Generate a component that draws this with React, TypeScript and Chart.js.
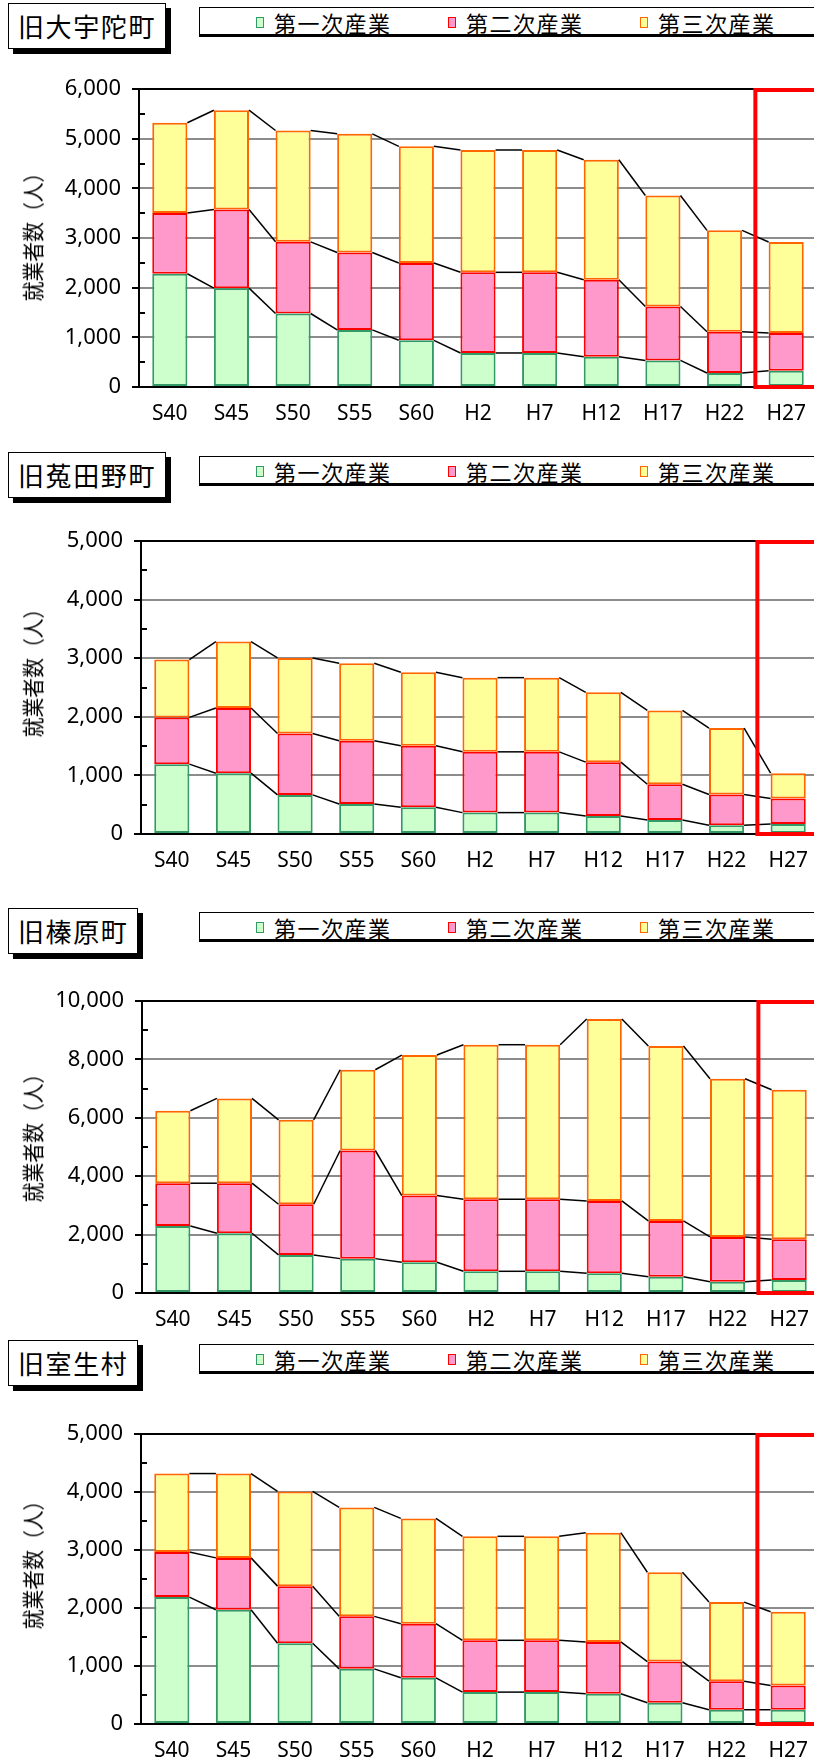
import React, { useEffect, useRef } from 'react';
import { Chart, registerables } from 'chart.js';

Chart.register(...registerables);

// ---------- data ----------
const categories = ['S40', 'S45', 'S50', 'S55', 'S60', 'H2', 'H7', 'H12', 'H17', 'H22', 'H27'];
const seriesLabels = ['第一次産業', '第二次産業', '第三次産業'];
const yAxisTitle = '就業者数（人）';

// 旧大宇陀町
const udaPrimary = [2280, 1990, 1480, 1150, 940, 685, 685, 610, 535, 282, 329];
const udaSecondary = [1221, 1583, 1443, 1557, 1557, 1624, 1624, 1550, 1087, 832, 758];
const udaTertiary = [1819, 2000, 2242, 2390, 2349, 2463, 2463, 2416, 2235, 2040, 1832];
const udaYTicks = [0, 1000, 2000, 3000, 4000, 5000, 6000];

// 旧菟田野町
const utanoPrimary = [1192, 1038, 667, 513, 456, 365, 365, 308, 239, 148, 171];
const utanoSecondary = [798, 1111, 1049, 1078, 1049, 1037, 1037, 918, 610, 525, 433];
const utanoTertiary = [986, 1135, 1289, 1322, 1254, 1266, 1266, 1191, 1260, 1134, 434];
const utanoYTicks = [0, 1000, 2000, 3000, 4000, 5000];

// 旧榛原町
const haibaraPrimary = [2297, 2046, 1303, 1177, 1051, 743, 743, 674, 560, 389, 446];
const haibaraSecondary = [1463, 1714, 1737, 3703, 2286, 2468, 2468, 2480, 1909, 1531, 1394];
const haibaraTertiary = [2480, 2903, 2891, 2766, 4812, 5292, 5292, 6229, 5988, 5417, 5120];
const haibaraYTicks = [0, 2000, 4000, 6000, 8000, 10000];

// 旧室生村
const muroPrimary = [2188, 1970, 1392, 951, 796, 550, 550, 521, 367, 246, 246];
const muroSecondary = [779, 894, 985, 905, 934, 893, 893, 894, 710, 493, 418];
const muroTertiary = [1351, 1454, 1632, 1878, 1815, 1793, 1793, 1884, 1540, 1363, 1272];
const muroYTicks = [0, 1000, 2000, 3000, 4000, 5000];

// ---------- styles ----------
const fillColors = ['#CCFFCC', '#FF99CC', '#FFFF99'];
const borderColors = ['#339966', '#FF0000', '#FF6600'];
const CJK = '"Noto Sans CJK JP", "Noto Sans", sans-serif';
const NUM = '"Noto Sans", "Noto Sans CJK JP", sans-serif';

const PAD_TOP = 27;
const X_H = 40;
const CAT_W = 61.6;

type PanelCfg = {
  name: string;
  primary: number[];
  secondary: number[];
  tertiary: number[];
  yTicks: number[];
  titleTop: number;
  plotTop: number;
  plotBottom: number;
  axisX: number;
  yTitleOffset: number;
};

const panels: PanelCfg[] = [
  { name: '旧大宇陀町', primary: udaPrimary, secondary: udaSecondary, tertiary: udaTertiary, yTicks: udaYTicks, titleTop: 3, plotTop: 89, plotBottom: 387, axisX: 139, yTitleOffset: 143 },
  { name: '旧菟田野町', primary: utanoPrimary, secondary: utanoSecondary, tertiary: utanoTertiary, yTicks: utanoYTicks, titleTop: 452, plotTop: 541, plotBottom: 834, axisX: 141, yTitleOffset: 127 },
  { name: '旧榛原町', primary: haibaraPrimary, secondary: haibaraSecondary, tertiary: haibaraTertiary, yTicks: haibaraYTicks, titleTop: 908, plotTop: 1001, plotBottom: 1293, axisX: 142, yTitleOffset: 132 },
  { name: '旧室生村', primary: muroPrimary, secondary: muroSecondary, tertiary: muroTertiary, yTicks: muroYTicks, titleTop: 1340, plotTop: 1434, plotBottom: 1724, axisX: 141, yTitleOffset: 126 },
];

function ChartPanel({ cfg }: { cfg: PanelCfg }) {
  const ref = useRef<HTMLCanvasElement | null>(null);
  const width = Math.ceil(cfg.axisX + CAT_W * categories.length);
  const height = PAD_TOP + (cfg.plotBottom - cfg.plotTop) + X_H;

  useEffect(() => {
    if (!ref.current) return;
    const yMin = cfg.yTicks[0];
    const yMax = cfg.yTicks[cfg.yTicks.length - 1];
    const yStep = cfg.yTicks[1] - cfg.yTicks[0];
    const seriesData = [cfg.primary, cfg.secondary, cfg.tertiary];

    const overlay = {
      id: 'overlay',
      afterDatasetsDraw(chart: any) {
        const ctx = chart.ctx as CanvasRenderingContext2D;
        const { left, right, top, bottom } = chart.chartArea;
        const xs = chart.scales.x;
        const ys = chart.scales.y;
        ctx.save();
        // series lines connecting stacked tops
        ctx.strokeStyle = '#000';
        ctx.lineWidth = 1.5;
        for (let d = 0; d < chart.data.datasets.length; d++) {
          const els = chart.getDatasetMeta(d).data as any[];
          for (let i = 0; i < els.length - 1; i++) {
            const a = els[i];
            const b = els[i + 1];
            ctx.beginPath();
            ctx.moveTo(a.x + a.width / 2, a.y);
            ctx.lineTo(b.x - b.width / 2, b.y);
            ctx.stroke();
          }
        }
        // x axis line over bars
        ctx.lineWidth = 2;
        ctx.beginPath();
        ctx.moveTo(left, Math.round(bottom));
        ctx.lineTo(right, Math.round(bottom));
        ctx.stroke();
        // minor ticks
        for (let v = yMin + yStep / 2; v < yMax; v += yStep) {
          const py = Math.round(ys.getPixelForValue(v));
          ctx.beginPath();
          ctx.moveTo(left, py);
          ctx.lineTo(left + 6, py);
          ctx.stroke();
        }
        // red highlight box around last category
        const cw = xs.getPixelForValue(1) - xs.getPixelForValue(0);
        const bx = xs.getPixelForValue(categories.length - 1) - cw / 2;
        ctx.strokeStyle = '#FF0000';
        ctx.lineWidth = 4;
        ctx.strokeRect(bx, top + 1, chart.width + 20 - bx, bottom - top - 1);
        ctx.restore();
      },
    };

    const chart = new Chart(ref.current, {
      type: 'bar',
      data: {
        labels: categories,
        datasets: seriesData.map((d, i) => ({
          label: seriesLabels[i],
          data: d,
          backgroundColor: fillColors[i],
          borderColor: borderColors[i],
          borderWidth: 2,
          borderSkipped: false,
          barPercentage: 0.57,
          categoryPercentage: 1,
          stack: 's',
        })),
      },
      options: {
        responsive: false,
        animation: false,
        devicePixelRatio: 1,
        layout: { padding: { top: PAD_TOP, left: 0, right: 0, bottom: 0 } },
        plugins: {
          legend: { display: false },
          tooltip: { enabled: false },
          title: { display: false },
        },
        scales: {
          x: {
            stacked: true,
            grid: { display: false },
            border: { display: true, color: '#000', width: 2 },
            ticks: {
              color: '#000',
              font: { family: NUM, size: 21 },
              padding: 6,
              maxRotation: 0,
              autoSkip: false,
            },
            afterFit: (s: any) => {
              s.height = X_H;
            },
          },
          y: {
            stacked: true,
            min: yMin,
            max: yMax,
            ticks: {
              stepSize: yStep,
              color: '#000',
              font: { family: NUM, size: 22 },
              padding: 11,
              callback: (v: any) => Number(v).toLocaleString('en-US'),
            },
            grid: {
              color: (c: any) => (c.tick && c.tick.value === yMax ? '#000' : '#8c8c8c'),
              lineWidth: 2,
              drawTicks: true,
              tickLength: 7,
              tickColor: '#000',
              tickWidth: 2,
            },
            border: { display: true, color: '#000', width: 2 },
            afterFit: (s: any) => {
              s.width = cfg.axisX;
            },
          },
        },
      } as any,
      plugins: [overlay],
    });
    return () => chart.destroy();
  }, [cfg]);

  return (
    <>
      <div
        style={{
          position: 'absolute',
          left: 8,
          top: cfg.titleTop,
          height: 46,
          boxSizing: 'border-box',
          border: '1.5px solid #000',
          background: '#fff',
          boxShadow: '5px 5px 0 #000',
          padding: '0 9px',
          fontSize: 26,
          letterSpacing: '1.6px',
          lineHeight: '43px',
          fontFamily: CJK,
          whiteSpace: 'nowrap',
          color: '#000',
        }}
      >
        {cfg.name}
      </div>
      <div
        style={{
          position: 'absolute',
          left: 199,
          top: cfg.titleTop + 3.5,
          width: 720,
          height: 30,
          boxSizing: 'border-box',
          border: '1.5px solid #000',
          borderBottomWidth: 3,
          background: '#fff',
        }}
      >
        {seriesLabels.map((s, i) => (
          <React.Fragment key={s}>
            <span
              style={{
                position: 'absolute',
                left: 56 + 192 * i,
                top: 9,
                width: 8,
                height: 11,
                boxSizing: 'border-box',
                border: `1.5px solid ${borderColors[i]}`,
                background: fillColors[i],
              }}
            />
            <span
              style={{
                position: 'absolute',
                left: 74 + 192 * i,
                top: 1,
                lineHeight: '26px',
                fontSize: 22,
                letterSpacing: '1.5px',
                fontFamily: CJK,
                whiteSpace: 'nowrap',
                color: '#000',
              }}
            >
              {s}
            </span>
          </React.Fragment>
        ))}
      </div>
      <canvas
        ref={ref}
        width={width}
        height={height}
        style={{ position: 'absolute', left: 0, top: cfg.plotTop - PAD_TOP, width, height, display: 'block' }}
      />
      <div
        style={{
          position: 'absolute',
          left: 31,
          top: cfg.plotTop + cfg.yTitleOffset,
          transform: 'translate(-50%, -50%) rotate(-90deg) scaleX(0.9)',
          fontSize: 22,
          lineHeight: '24px',
          fontFamily: CJK,
          whiteSpace: 'nowrap',
          color: '#000',
        }}
      >
        {yAxisTitle}
      </div>
    </>
  );
}

export default function App() {
  return (
    <div
      style={{
        position: 'absolute',
        left: 0,
        top: 0,
        width: 814,
        height: 1758,
        overflow: 'hidden',
        background: '#fff',
      }}
    >
      {panels.map((p) => (
        <ChartPanel key={p.name} cfg={p} />
      ))}
    </div>
  );
}
